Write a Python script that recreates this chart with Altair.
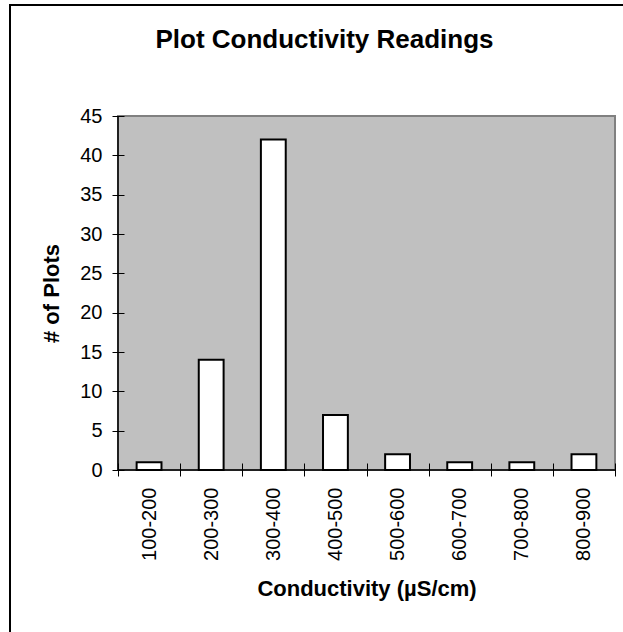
import altair as alt
import pandas as pd

categories = ["100-200", "200-300", "300-400", "400-500", "500-600", "600-700", "700-800", "800-900"]
counts = [1, 14, 42, 7, 2, 1, 1, 2]
y_ticks = [0, 5, 10, 15, 20, 25, 30, 35, 40, 45]

df = pd.DataFrame({"range": categories, "count": counts})
one = pd.DataFrame({"z": [0]})

W, H = 497, 354
FONT = "Liberation Sans"

bars = alt.Chart(df).mark_bar(
    fill="white", stroke="black", strokeWidth=2,
    width=alt.RelativeBandSize(0.4)
).encode(
    x=alt.X("range:N", sort=categories,
            scale=alt.Scale(paddingInner=0, paddingOuter=0),
            axis=alt.Axis(title="Conductivity (µS/cm)", tickBand="extent",
                          offset=-7, tickSize=13, domain=False,
                          labelAngle=-90, labelPadding=11, labelFontSize=20,
                          labelColor="black", tickColor="black", tickWidth=1,
                          titleFontSize=22, titleFontWeight="bold",
                          titleColor="black", titlePadding=18, grid=False)),
    y=alt.Y("count:Q", scale=alt.Scale(domain=[0, 45], nice=False),
            axis=alt.Axis(title="# of Plots", values=y_ticks,
                          offset=-6, tickSize=12, domain=False,
                          labelPadding=10, labelFontSize=20, labelColor="black",
                          tickColor="black", tickWidth=1,
                          titleFontSize=22, titleFontWeight="bold",
                          titleColor="black", titlePadding=16, grid=False))
)

x_line = alt.Chart(one).mark_rule(color="black", strokeWidth=1.5).encode(
    x=alt.value(0), x2=alt.value(W), y=alt.value(H))
y_line = alt.Chart(one).mark_rule(color="black", strokeWidth=1.5).encode(
    x=alt.value(0), y=alt.value(0), y2=alt.value(H))

frame = alt.Chart(one).mark_rect(fill=None, stroke="black", strokeWidth=2).encode(
    x=alt.value(-108), x2=alt.value(522), y=alt.value(-111), y2=alt.value(530))

chart = alt.layer(frame, bars, x_line, y_line).properties(
    width=W, height=H,
    autosize=alt.AutoSizeParams(type="none"),
    padding={"left": 118, "top": 116, "right": 8, "bottom": 162},
    title=alt.TitleParams("Plot Conductivity Readings", fontSize=26,
                          fontWeight="bold", color="black", anchor="middle",
                          baseline="alphabetic", offset=-70, dx=-42, font=FONT),
    background="white"
).configure(font=FONT).configure_view(
    fill="#c0c0c0", stroke="#808080", strokeWidth=2
)

chart.save("out.html", embed_options={"renderer": "svg", "actions": False})
